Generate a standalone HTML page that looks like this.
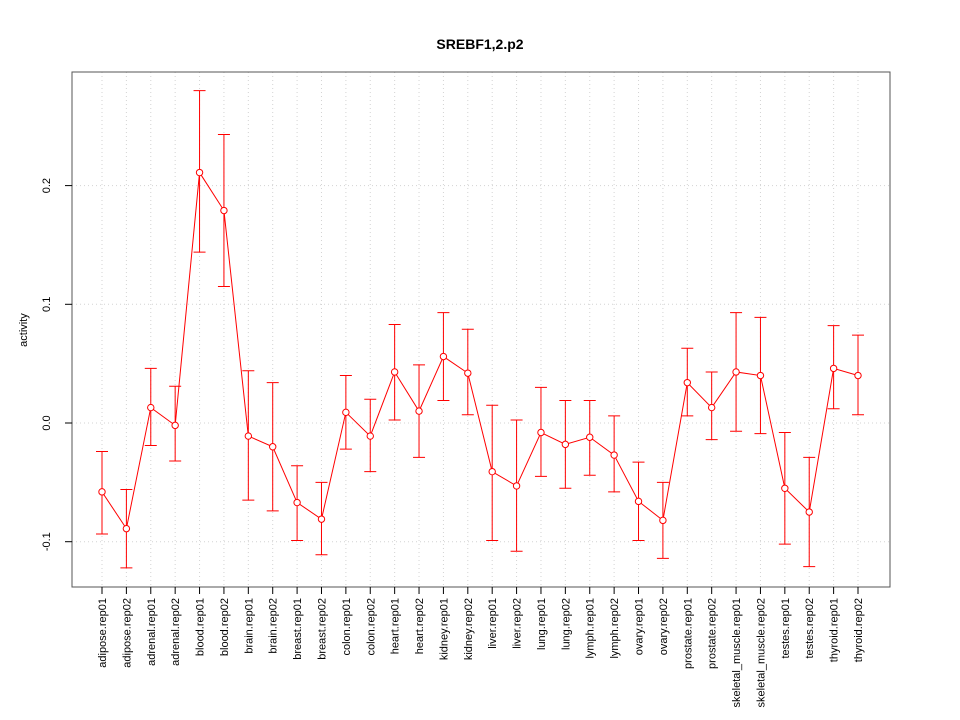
<!DOCTYPE html>
<html><head><meta charset="utf-8"><style>
body{margin:0;background:#fff;}
svg{display:block;font-family:"Liberation Sans",sans-serif;}
</style></head><body>
<svg id="chart" width="960" height="720" xmlns="http://www.w3.org/2000/svg">
<text x="480" y="49" text-anchor="middle" font-size="14" font-weight="bold">SREBF1,2.p2</text>
<text transform="translate(27,330) rotate(-90)" text-anchor="middle" font-size="11">activity</text>
<g id="grid"></g>
<rect x="72" y="72" width="818" height="515" fill="none" stroke="#555" stroke-width="1"/>
<g id="axes"></g><g id="series"></g>
</svg>
<script>
const categories=["adipose.rep01","adipose.rep02","adrenal.rep01","adrenal.rep02","blood.rep01","blood.rep02","brain.rep01","brain.rep02","breast.rep01","breast.rep02","colon.rep01","colon.rep02","heart.rep01","heart.rep02","kidney.rep01","kidney.rep02","liver.rep01","liver.rep02","lung.rep01","lung.rep02","lymph.rep01","lymph.rep02","ovary.rep01","ovary.rep02","prostate.rep01","prostate.rep02","skeletal_muscle.rep01","skeletal_muscle.rep02","testes.rep01","testes.rep02","thyroid.rep01","thyroid.rep02"];
const values=[-0.058,-0.089,0.013,-0.002,0.211,0.179,-0.011,-0.020,-0.067,-0.081,0.009,-0.011,0.043,0.010,0.056,0.042,-0.041,-0.053,-0.008,-0.018,-0.012,-0.027,-0.066,-0.082,0.034,0.013,0.043,0.040,-0.055,-0.075,0.046,0.040];
const upper=[-0.024,-0.056,0.046,0.031,0.280,0.243,0.044,0.034,-0.036,-0.050,0.040,0.020,0.083,0.049,0.093,0.079,0.015,0.0025,0.030,0.019,0.019,0.006,-0.033,-0.050,0.063,0.043,0.093,0.089,-0.008,-0.029,0.082,0.074];
const lower=[-0.0935,-0.122,-0.019,-0.032,0.144,0.115,-0.065,-0.074,-0.099,-0.111,-0.022,-0.041,0.0025,-0.029,0.019,0.007,-0.099,-0.108,-0.045,-0.055,-0.044,-0.058,-0.099,-0.114,0.006,-0.014,-0.007,-0.009,-0.102,-0.121,0.012,0.007];
const yTicks=[-0.1,0.0,0.1,0.2];
const yTickLabels=["-0.1","0.0","0.1","0.2"];
const NS="http://www.w3.org/2000/svg";
const xScale=i=>102+i*(858-102)/(categories.length-1);
const yScale=v=>423-v*1187;
function mk(tag,attrs,parent){const e=document.createElementNS(NS,tag);for(const k in attrs)e.setAttribute(k,attrs[k]);parent.appendChild(e);return e;}
const grid=document.getElementById('grid'),axes=document.getElementById('axes'),series=document.getElementById('series');
categories.forEach((c,i)=>{
 const x=xScale(i);
 const g=mk('line',{x1:x,x2:x,y1:72,y2:587,stroke:'#d3d3d3','stroke-dasharray':'1,3'},grid);
 
 
 const t=mk('line',{x1:x,x2:x,y1:587,y2:594,stroke:'#000'},axes);
 
 
 const l=mk('text',{transform:`translate(${x+4},598) rotate(-90)`,'text-anchor':'end','font-size':'11'},axes);
 l.textContent=c;
 
 
});
yTicks.forEach((v,i)=>{
 const y=yScale(v);
 const g=mk('line',{x1:72,x2:890,y1:y,y2:y,stroke:'#d3d3d3','stroke-dasharray':'1,3'},grid);
 
 
 const t=mk('line',{x1:65,x2:72,y1:y,y2:y,stroke:'#000'},axes);
 
 
 const l=mk('text',{transform:`translate(50,${y}) rotate(-90)`,'text-anchor':'middle','font-size':'11'},axes);
 l.textContent=yTickLabels[i];
 
 
});
const pts=values.map((v,i)=>xScale(i)+','+yScale(v)).join(' ');
const line=mk('polyline',{points:pts,fill:'none',stroke:'#ff0000','stroke-width':1},series);


values.forEach((v,i)=>{
 const x=xScale(i),yu=yScale(upper[i]),yl=yScale(lower[i]);
 const e=mk('path',{d:`M${x},${yu}V${yl}M${x-6},${yu}H${x+6}M${x-6},${yl}H${x+6}`,stroke:'#ff0000',fill:'none','stroke-width':1},series);
 
 
 const c=mk('circle',{cx:x,cy:yScale(v),r:3.2,fill:'#fff',stroke:'#ff0000','stroke-width':1},series);
 
 
});
</script>
</body></html>
